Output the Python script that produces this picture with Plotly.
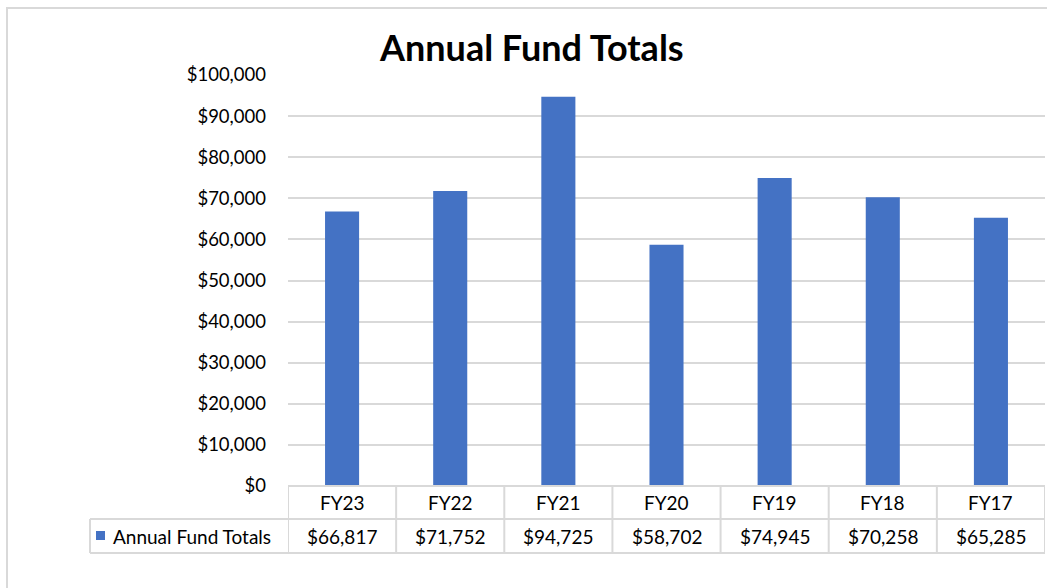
import plotly.graph_objects as go

categories = ["FY23", "FY22", "FY21", "FY20", "FY19", "FY18", "FY17"]
values = [66817, 71752, 94725, 58702, 74945, 70258, 65285]
series_name = "Annual Fund Totals"
title_text = "Annual Fund Totals"
tick_vals = [0, 10000, 20000, 30000, 40000, 50000, 60000, 70000, 80000, 90000, 100000]

BLUE = "#4472C4"
GRID = "#d9d9d9"
FONT = "Lato, Carlito, Calibri, sans-serif"

W, H = 1047, 588
ML, MR, MT, MB = 288, 2, 75, 102
plot_h = H - MT - MB
plot_w = W - ML - MR

def py(px):
    # pixel y (from top) -> paper y
    return (H - MB - px) / plot_h

def pxx(px):
    return (px - ML) / plot_w

xs = list(range(len(categories)))

fig = go.Figure()
fig.add_trace(go.Bar(
    x=xs, y=values, name=series_name,
    marker=dict(color=BLUE, line=dict(width=0)),
    width=0.315, showlegend=False, hoverinfo="skip",
))

row_top = py(486)
row_mid = py(519)
row_bot = py(553)

shapes = []
line = dict(color=GRID, width=2)
n = len(categories)
# horizontal lines
shapes.append(dict(type="line", xref="x", yref="paper", x0=-0.5, x1=n - 0.5, y0=row_top, y1=row_top, line=line))
shapes.append(dict(type="line", xref="paper", yref="paper", x0=pxx(90), x1=1, y0=row_mid, y1=row_mid, line=line))
shapes.append(dict(type="line", xref="paper", yref="paper", x0=pxx(90), x1=1, y0=row_bot, y1=row_bot, line=line))
# vertical lines
for i in range(n + 1):
    shapes.append(dict(type="line", xref="x", yref="paper", x0=i - 0.5, x1=i - 0.5, y0=row_top, y1=row_bot, line=line))
shapes.append(dict(type="line", xref="paper", yref="paper", x0=pxx(90), x1=pxx(90), y0=row_mid, y1=row_bot, line=line))
# legend key
shapes.append(dict(type="rect", xref="paper", yref="paper", x0=pxx(96), x1=pxx(105),
                   y0=py(540), y1=py(531), fillcolor=BLUE, line=dict(width=0)))
# outer chart border
shapes.append(dict(type="rect", xref="paper", yref="paper", x0=pxx(7), x1=pxx(1060),
                   y0=py(600), y1=py(8), line=dict(color=GRID, width=2), fillcolor="rgba(0,0,0,0)"))

TF = dict(family=FONT, size=19, color="#000")
annotations = []
for i, (c, v) in enumerate(zip(categories, values)):
    annotations.append(dict(x=i, y=(row_top + row_mid) / 2, xref="x", yref="paper", text=c,
                             xanchor="center", yanchor="middle", showarrow=False, font=TF))
    annotations.append(dict(x=i, y=(row_mid + row_bot) / 2, xref="x", yref="paper", text=f"${v:,}",
                             xanchor="center", yanchor="middle", showarrow=False, font=TF))
annotations.append(dict(x=pxx(111), y=(row_mid + row_bot) / 2, xref="paper", yref="paper",
                        text=series_name, xanchor="left", yanchor="middle", showarrow=False, font=TF))
annotations.append(dict(x=pxx(531), y=py(47), xref="paper", yref="paper", text=f"<b>{title_text}</b>",
                        xanchor="center", yanchor="middle", showarrow=False,
                        font=dict(family=FONT, size=36, color="#000")))

fig.update_layout(
    width=W, height=H,
    margin=dict(l=ML, r=MR, t=MT, b=MB),
    paper_bgcolor="white", plot_bgcolor="white",
    bargap=0.685,
    xaxis=dict(range=[-0.5, n - 0.5], showticklabels=False, showgrid=False, zeroline=False,
               showline=False, ticks=""),
    yaxis=dict(range=[0, 100000], tickvals=tick_vals,
               ticktext=[f"${t:,}" for t in tick_vals], showgrid=True, gridcolor=GRID, gridwidth=2,
               zeroline=False, showline=False, ticks="", ticklabelstandoff=21,
               tickfont=dict(family=FONT, size=18.5, color="#000")),
    shapes=shapes, annotations=annotations,
)

fig.write_html("out.html")
